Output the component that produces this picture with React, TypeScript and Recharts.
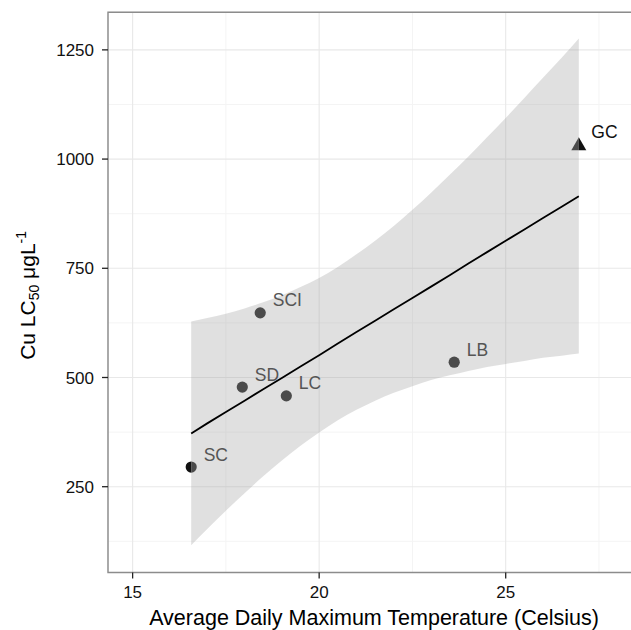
import React from "react";
import {
  ComposedChart,
  Area,
  Line,
  Scatter,
  XAxis,
  YAxis,
  CartesianGrid,
  ReferenceArea,
} from "recharts";

// ---- data ----
const siteNames = ["SC", "SD", "SCI", "LC", "LB", "GC"];
const siteTemp = [16.57, 17.94, 18.42, 19.12, 23.62, 26.96];
const siteLC50 = [295, 478, 648, 458, 535, 1033];
const siteMarker = ["halfCircle", "circle", "circle", "circle", "circle", "triangle"];

const bandX = [16.57, 17, 17.5, 18, 18.5, 19, 19.5, 20, 20.5, 21, 21.5, 22, 22.5, 23, 23.5, 24, 24.5, 25, 25.5, 26, 26.5, 26.96];
const bandLo = [116, 153, 195, 235, 274, 310, 344, 374, 402, 426, 447, 465, 480, 494, 505, 515, 524, 531, 538, 545, 550, 555];
const bandHi = [628, 636, 646, 658, 672, 688, 707, 728, 753, 782, 813, 847, 884, 923, 964, 1006, 1050, 1094, 1140, 1186, 1232, 1276];
const fitY = [372, 395, 421, 447, 473, 499, 525, 551, 578, 604, 630, 656, 682, 708, 734, 761, 787, 813, 839, 865, 891, 915];

const xTicks = [15, 20, 25];
const xMinor = [17.5, 22.5, 27.5];
const yTicks = [250, 500, 750, 1000, 1250];
const yMinor = [125, 375, 625, 875, 1125];

const xDomain = [14.34, 28.6];
const yDomain = [53.6, 1336];

const bandData = bandX.map((x, i) => ({
  x,
  range: [bandLo[i], bandHi[i]],
  fit: fitY[i],
}));

const pointData = siteNames.map((name, i) => ({
  name,
  x: siteTemp[i],
  y: siteLC50[i],
  marker: siteMarker[i],
}));

const FONT = '"Liberation Sans", Arial, Helvetica, sans-serif';
const DARK = "#111111";
const COVERED = "#4b4b4b";
const LABEL_IN = "#555555";

const PointShape = (props: any) => {
  const { cx, cy, payload } = props;
  if (cx == null || cy == null) return null;
  const r = 5.6;
  let mark: React.ReactNode;
  let labelColor = LABEL_IN;
  if (payload.marker === "triangle") {
    const top = cy - 7.5;
    const bot = cy + 5.5;
    mark = (
      <g>
        <polygon points={`${cx},${top} ${cx - 7.5},${bot} ${cx},${bot}`} fill={COVERED} />
        <polygon points={`${cx},${top} ${cx + 7.5},${bot} ${cx},${bot}`} fill={DARK} />
      </g>
    );
    labelColor = DARK;
  } else if (payload.marker === "halfCircle") {
    mark = (
      <g>
        <path d={`M${cx},${cy - r} A${r},${r} 0 0 0 ${cx},${cy + r} Z`} fill={DARK} />
        <path d={`M${cx},${cy - r} A${r},${r} 0 0 1 ${cx},${cy + r} Z`} fill={COVERED} />
      </g>
    );
  } else {
    mark = <circle cx={cx} cy={cy} r={r} fill={COVERED} />;
  }
  return (
    <g>
      {mark}
      <text
        x={cx + 12.5}
        y={cy - 6.5}
        fontSize={17.5}
        fontFamily={FONT}
        fill={labelColor}
        textAnchor="start"
      >
        {payload.name}
      </text>
    </g>
  );
};

const YTitle = (props: any) => {
  const vb = props.viewBox || { x: 0, y: 0, width: 108, height: 560 };
  const bx = vb.x + 35;
  const cy = vb.y + vb.height / 2 + 3;
  return (
    <text
      transform={`translate(${bx},${cy}) rotate(-90)`}
      textAnchor="middle"
      fontFamily={FONT}
      fontSize={21}
      fill="#000"
    >
      <tspan>Cu LC</tspan>
      <tspan fontSize={14} dy={4}>50</tspan>
      <tspan fontSize={21} dy={-4}> μgL</tspan>
      <tspan fontSize={14} dy={-9}>-1</tspan>
    </text>
  );
};

const XTitle = (props: any) => {
  const vb = props.viewBox || { x: 108, y: 573, width: 532, height: 57 };
  return (
    <text
      x={vb.x + vb.width / 2}
      y={vb.y + 52}
      textAnchor="middle"
      fontFamily={FONT}
      fontSize={21.5}
      fill="#000"
    >
      Average Daily Maximum Temperature (Celsius)
    </text>
  );
};

export default function App() {
  return (
    <div
      style={{
        position: "absolute",
        left: 0,
        top: 0,
        width: 631,
        height: 630,
        overflow: "hidden",
        background: "#fff",
      }}
    >
      <ComposedChart
        width={650}
        height={630}
        data={bandData}
        margin={{ top: 12.3, right: 10, left: 0, bottom: 0 }}
      >
        <CartesianGrid
          horizontalValues={yMinor}
          verticalValues={xMinor}
          stroke="#f4f4f4"
          strokeWidth={1}
        />
        <CartesianGrid stroke="#e8e8e8" strokeWidth={1.1} />
        <XAxis
          type="number"
          dataKey="x"
          domain={xDomain}
          ticks={xTicks}
          allowDataOverflow
          height={57.5}
          axisLine={false}
          tickLine={{ stroke: "#222", strokeWidth: 1.3 }}
          tickSize={6}
          tickMargin={7}
          tick={{ fontSize: 17, fontFamily: FONT, fill: "#111" }}
          label={<XTitle />}
        />
        <YAxis
          type="number"
          domain={yDomain}
          ticks={yTicks}
          allowDataOverflow
          width={108}
          axisLine={false}
          tickLine={{ stroke: "#222", strokeWidth: 1.3 }}
          tickSize={6}
          tickMargin={8}
          tick={{ fontSize: 17, fontFamily: FONT, fill: "#111" }}
          label={<YTitle />}
        />
        <Area
          dataKey="range"
          type="monotone"
          stroke="none"
          fill="#999999"
          fillOpacity={0.3}
          isAnimationActive={false}
          dot={false}
          activeDot={false}
        />
        <Line
          dataKey="fit"
          type="linear"
          stroke="#000"
          strokeWidth={1.8}
          dot={false}
          activeDot={false}
          isAnimationActive={false}
        />
        <Scatter
          data={pointData}
          dataKey="y"
          shape={PointShape}
          isAnimationActive={false}
        />
        <ReferenceArea
          x1={xDomain[0]}
          x2={xDomain[1]}
          y1={yDomain[0]}
          y2={yDomain[1]}
          fill="none"
          stroke="#8c8c8c"
          strokeWidth={1.4}
          ifOverflow="visible"
        />
      </ComposedChart>
    </div>
  );
}
